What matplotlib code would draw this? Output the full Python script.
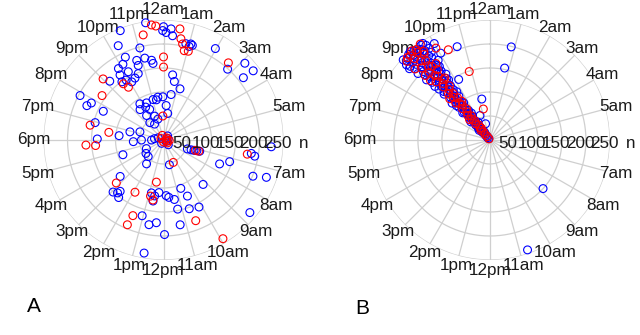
import numpy as np
import matplotlib
matplotlib.use('Agg')
import matplotlib.pyplot as plt

plt.rcParams['font.family'] = ['Liberation Sans', 'DejaVu Sans']

# Rótulos das horas (sentido horário, 12am no topo)
hour_labels = ['12am', '1am', '2am', '3am', '4am', '5am', '6am', '7am', '8am', '9am', '10am', '11am',
               '12pm', '1pm', '2pm', '3pm', '4pm', '5pm', '6pm', '7pm', '8pm', '9pm', '10pm', '11pm']
radial_ticks = [50, 100, 150, 200, 250]
radial_labels = ['50', '100', '150', '200', '250']
panel_names = ['A', 'B']

# Painel A - pontos azuis (hora, n)
a_blue_hour = [23.42, 0.0, 0.09, 0.26, 0.33, 0.87, 1.06, 1.13, 1.02, 22.56, 22.29, 23.04, 23.97, 1.97, 2.81,
               3.11, 3.49, 3.47, 0.53, 0.70, 1.19, 0.63, 23.94, 23.33, 0.29, 0.6, 22.35, 22.76, 23.14, 23.43,
               23.48, 22.12, 22.75, 21.85, 21.75, 22.18, 22.61, 21.63, 21.87, 22.35, 22.09, 21.17, 19.87, 19.61,
               19.81, 19.7, 23.5, 23.03, 21.79, 22.36, 22.1, 21.49, 22.38, 21.69, 22.65, 22.99, 21.45, 22.04,
               18.95, 18.06, 18.37, 18.91, 19.27, 17.79, 17.99, 17.98, 18.55, 16.67, 16.22, 15.51, 14.85, 14.36,
               15.33, 14.94, 14.73, 14.68, 14.53, 12.33, 12.86, 12.6, 12.65, 11.82, 11.65, 11.31, 11.23, 10.69,
               10.46, 10.63, 10.14, 11.26, 11.96, 13.05, 12.65, 12.33, 12.65, 9.22, 7.54, 7.21, 6.58, 6.67,
               6.24, 7.47, 7.33, 8.67, 11.11, 7.37, 7.31, 7.25, 7.19, 7.15, 5.0, 14.0, 19.5, 9.0, 3.0, 8.0]
a_blue_n = [247, 236, 224, 232, 218, 206, 208, 206, 202, 245, 218, 198, 228, 219, 199,
            233, 236, 211, 137, 124, 112, 96, 90, 85, 72, 56, 190, 175, 175, 168,
            161, 179, 164, 176, 163, 160, 148, 149, 147, 142, 138, 166, 197, 175,
            169, 139, 90, 87, 90, 85, 78, 80, 70, 62, 53, 45, 46, 38,
            147, 138, 93, 72, 52, 63, 46, 25, 19, 90, 40, 46, 47, 61,
            118, 151, 146, 140, 152, 110, 113, 118, 129, 116, 120, 126, 147, 107,
            127, 153, 158, 180, 197, 164, 179, 173, 239, 124, 127, 145, 185, 193,
            225, 201, 228, 235, 53, 53, 61, 67, 73, 79, 10, 8, 12, 14, 12, 6]

# Painel A - pontos vermelhos
a_red_hour = [23.6, 23.74, 0.56, 0.65, 0.75, 0.87, 1.04, 23.27, 2.67, 0.0, 0.0, 21.63, 21.76, 21.02, 20.39,
              18.76, 18.53, 17.75, 17.69, 23.89, 15.18, 13.91, 12.64, 12.87, 12.67, 13.47, 13.54, 10.43,
              10.55, 9.93, 6.64, 7.2, 7.17, 5.5, 6.3, 7.0, 8.5, 4.0, 20.0, 23.0, 12.0]
a_red_n = [241, 238, 234, 214, 204, 191, 192, 223, 210, 173, 152, 144, 132, 179, 158,
           156, 115, 162, 142, 50, 133, 124, 89, 120, 127, 170, 192, 51,
           181, 240, 177, 70, 77, 5, 12, 8, 10, 8, 6, 10, 4]

# Painel B - pontos azuis
b_blue_hour = [21.65, 20.95, 21.45, 21.15, 21.55, 21.25, 21.05, 21.45, 21.35, 21.15, 21.55, 21.25, 21.45,
               21.1, 21.35, 21.5, 21.2, 21.4, 21.25, 21.55, 21.15, 21.35, 21.45, 21.25, 21.6, 21.15, 21.35,
               21.5, 21.25, 21.4, 21.1, 21.55, 21.3, 21.45, 21.2, 21.35, 21.65, 21.25, 21.4, 21.15, 21.5,
               21.3, 21.6, 21.2, 21.4, 21.1, 21.45, 21.3, 21.55, 21.2, 21.35, 21.65, 21.25, 21.45, 21.15,
               21.35, 21.55, 21.25, 21.4, 21.1, 21.5, 21.3, 21.65, 21.2, 21.4, 21.05, 21.5, 21.3, 21.15,
               21.45, 21.25, 21.6, 21.05, 21.35, 21.2, 21.5, 21.1, 21.35, 21.2, 21.0, 21.3, 21.1,
               21.0, 21.7, 20.95, 21.75, 21.0, 21.65, 20.9, 21.7, 21.0, 21.8, 20.85, 21.65, 20.9,
               21.75, 20.85, 21.6, 20.8, 21.5, 20.9, 21.4, 21.6, 20.85, 21.2, 21.45, 21.0,
               21.7, 20.8, 21.75, 20.9, 21.7, 21.0, 21.65, 20.95, 21.7, 21.0, 21.6, 21.05, 21.55, 21.05,
               0.86, 0.77, 8.83, 10.74, 20.77, 22.71, 22.18, 23.25, 22.53, 23.0, 21.68, 21.73, 22.0,
               21.77, 22.03, 21.62, 21.57]
b_blue_n = [4, 7, 10, 13, 16, 19, 22, 25, 28, 31, 34, 37, 40,
            43, 46, 49, 52, 55, 58, 61, 64, 67, 70, 73, 76, 79, 82,
            85, 88, 91, 94, 97, 100, 103, 106, 109, 112, 115, 118, 121, 124,
            127, 130, 133, 136, 139, 142, 145, 148, 151, 154, 157, 160, 163, 166,
            169, 172, 175, 178, 181, 184, 187, 190, 193, 196, 199, 202, 205, 208,
            211, 214, 217, 220, 223, 226, 229, 232, 235, 238, 241, 244, 246,
            150, 152, 160, 165, 170, 176, 182, 186, 192, 198, 204, 210, 216,
            220, 226, 230, 234, 238, 240, 242, 244, 246, 248, 236, 228,
            20, 30, 45, 55, 68, 80, 95, 110, 122, 135, 140, 100, 60, 35,
            199, 153, 150, 242, 224, 206, 142, 87, 55, 35, 245, 238, 232,
            229, 208, 193, 178]

# Painel B - pontos vermelhos
b_red_hour = [21.35, 21.55, 21.25, 21.45, 21.15, 21.4, 21.55, 21.25, 21.45, 21.3, 21.5, 21.2, 21.4, 21.55,
              21.25, 21.45, 21.35, 21.15, 21.5, 21.3, 21.45, 21.2, 21.4, 21.55, 21.25, 21.35, 21.5, 21.15,
              21.4, 21.3, 21.55, 21.2, 21.45, 21.35, 21.1, 21.4, 21.25, 21.5, 21.15, 21.35, 21.0, 21.25,
              21.6, 21.0, 21.65, 20.9, 21.55, 20.9, 21.6, 21.05, 21.6, 21.0, 21.6, 21.0,
              22.35, 22.88, 23.2, 21.97, 21.11, 21.39]
b_red_n = [3, 9, 15, 21, 27, 33, 39, 45, 51, 57, 63, 69, 75, 81,
           87, 93, 99, 105, 111, 117, 123, 129, 135, 141, 147, 153, 159, 165,
           171, 177, 183, 189, 195, 201, 207, 213, 219, 225, 231, 237, 243, 247,
           160, 175, 195, 215, 230, 238, 247, 120, 100, 60, 30, 190,
           207, 149, 66, 222, 241, 243]


def hora_para_angulo(horas):
    return np.array(horas) / 24.0 * 2 * np.pi


def desenha_grade(ax):
    # grade polar no estilo do R (plotrix)
    ax.set_theta_zero_location('N')
    ax.set_theta_direction(-1)
    ax.set_ylim(0, 250)
    ax.grid(False)
    ax.set_xticks([])
    ax.set_yticks([])
    ax.spines['polar'].set_visible(False)
    ax.patch.set_alpha(0)
    circulo = np.linspace(0, 2 * np.pi, 361)
    for r in radial_ticks:
        ax.plot(circulo, np.full_like(circulo, r), color='#cfcfcf', lw=0.9, zorder=1)
    for i, lab in enumerate(hour_labels):
        t = hora_para_angulo(i)
        ax.plot([t, t], [0, 250], color='#cfcfcf', lw=0.9, zorder=1)
        if lab != '6am':
            ax.text(t, 271, lab, ha='center', va='center', fontsize=12.3, color='#1a1a1a', clip_on=False)
    for r, lab in zip(radial_ticks, radial_labels):
        ax.annotate(lab, (np.pi / 2, r - 12), xytext=(0, -2.5), textcoords='offset points',
                    ha='center', va='center', fontsize=12.3, color='#1a1a1a', annotation_clip=False, zorder=5)
    ax.annotate('n', (np.pi / 2, 293), xytext=(0, -2.5), textcoords='offset points',
                ha='center', va='center', fontsize=12.3, color='#1a1a1a', annotation_clip=False, zorder=5)


fig = plt.figure(figsize=(6.4, 3.35), dpi=100)
ax_a = fig.add_axes([0.068, 0.2239, 0.375, 0.7164], projection='polar')
ax_b = fig.add_axes([0.578, 0.2239, 0.375, 0.7164], projection='polar')

for ax in [ax_a, ax_b]:
    desenha_grade(ax)

ax_a.scatter(hora_para_angulo(a_blue_hour), a_blue_n, s=32, facecolors='none', edgecolors='blue',
             linewidths=0.8, clip_on=False, zorder=3)
ax_a.scatter(hora_para_angulo(a_red_hour), a_red_n, s=32, facecolors='none', edgecolors='red',
             linewidths=0.8, clip_on=False, zorder=3)

ax_b.scatter(hora_para_angulo(b_blue_hour), b_blue_n, s=32, facecolors='none', edgecolors='blue',
             linewidths=0.8, clip_on=False, zorder=3)
ax_b.scatter(hora_para_angulo(b_red_hour), b_red_n, s=32, facecolors='none', edgecolors='red',
             linewidths=0.8, clip_on=False, zorder=3)

# letras dos painéis
fig.text(33.5 / 640, 1 - 307 / 335, panel_names[0], ha='center', va='center', fontsize=15)
fig.text(362.5 / 640, 1 - 308 / 335, panel_names[1], ha='center', va='center', fontsize=15)

fig.savefig('out.png', dpi=100)
